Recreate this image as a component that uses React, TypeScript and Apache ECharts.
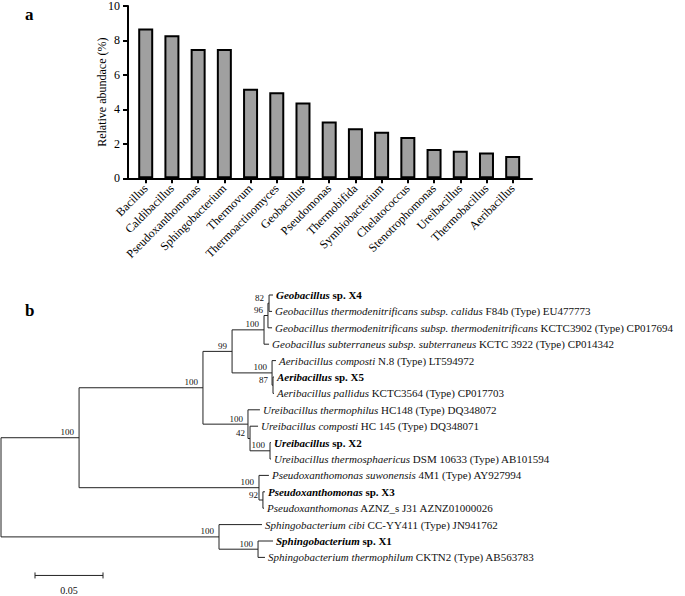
import React, { useEffect, useRef } from "react";
import * as echarts from "echarts";

const FONT = "Liberation Serif";

// ---- panel a: bar chart data ----
const genera = [
  "Bacillus", "Caldibacillus", "Pseudoxanthomonas", "Sphingobacterium", "Thermovum",
  "Thermoactinomyces", "Geobacillus", "Pseudomonas", "Thermobifida", "Symbiobacterium",
  "Chelatococcus", "Stenotrophomonas", "Ureibacillus", "Thermobacillus", "Aeribacillus",
];
const abundance = [8.7, 8.3, 7.5, 7.5, 5.2, 5.0, 4.4, 3.3, 2.9, 2.7, 2.4, 1.7, 1.6, 1.5, 1.3];
const yMin = 0;
const yMax = 10;
const yStep = 2;

// ---- panel b: phylogenetic tree data ----
// [node id, parent id, branch length, bootstrap]
const treeNodes: [string, string, number, string][] = [
  ["root", "", 0, ""],
  ["A", "root", 0.0574, "100"],
  ["B", "A", 0.0911, "100"],
  ["GA", "B", 0.0214, "99"],
  ["Geo", "GA", 0.0235, "100"],
  ["n96", "Geo", 0.0029, "96"],
  ["n82", "n96", 0.0008, "82"],
  ["t0", "n82", 0.0029, ""],
  ["t1", "n82", 0.0022, ""],
  ["t2", "n96", 0.003, ""],
  ["t3", "Geo", 0.0037, ""],
  ["Aer", "GA", 0.0294, "100"],
  ["t4", "Aer", 0.0029, ""],
  ["n87", "Aer", 0.0007, "87"],
  ["t5", "n87", 0.0007, ""],
  ["t6", "n87", 0.0007, ""],
  ["Ure", "B", 0.0331, "100"],
  ["t7", "Ure", 0.0088, ""],
  ["n42", "Ure", 0.0015, "42"],
  ["t8", "n42", 0.0059, ""],
  ["nX2", "n42", 0.0147, "100"],
  ["t9", "nX2", 0.0007, ""],
  ["t10", "nX2", 0.0007, ""],
  ["Psx", "A", 0.1323, "100"],
  ["t11", "Psx", 0.0073, ""],
  ["n92", "Psx", 0.0029, "92"],
  ["t12", "n92", 0.0015, ""],
  ["t13", "n92", 0.0008, ""],
  ["Sph", "root", 0.1603, "100"],
  ["t14", "Sph", 0.0316, ""],
  ["nX1", "Sph", 0.0287, "100"],
  ["t15", "nX1", 0.011, ""],
  ["t16", "nX1", 0.0051, ""],
];
const leafOrder = ["t0", "t1", "t2", "t3", "t4", "t5", "t6", "t7", "t8", "t9", "t10", "t11", "t12", "t13", "t14", "t15", "t16"];
const tipItalic = [
  "Geobacillus",
  "Geobacillus thermodenitrificans subsp. calidus",
  "Geobacillus thermodenitrificans subsp. thermodenitrificans",
  "Geobacillus subterraneus subsp. subterraneus",
  "Aeribacillus composti",
  "Aeribacillus",
  "Aeribacillus pallidus",
  "Ureibacillus thermophilus",
  "Ureibacillus composti",
  "Ureibacillus",
  "Ureibacillus thermosphaericus",
  "Pseudoxanthomonas suwonensis",
  "Pseudoxanthomonas",
  "Pseudoxanthomonas",
  "Sphingobacterium cibi",
  "Sphingobacterium",
  "Sphingobacterium thermophilum",
];
const tipPlain = [
  " sp. X4",
  " F84b (Type) EU477773",
  " KCTC3902 (Type) CP017694",
  " KCTC 3922 (Type) CP014342",
  " N.8 (Type) LT594972",
  " sp. X5",
  " KCTC3564 (Type) CP017703",
  " HC148 (Type) DQ348072",
  " HC 145 (Type) DQ348071",
  " sp. X2",
  " DSM 10633 (Type) AB101594",
  " 4M1 (Type) AY927994",
  " sp. X3",
  " AZNZ_s J31 AZNZ01000026",
  " CC-YY411 (Type) JN941762",
  " sp. X1",
  " CKTN2 (Type) AB563783",
];
const tipBold = [true, false, false, false, false, true, false, false, false, true, false, false, true, false, false, true, false];
const scaleBar = { start: 0.025, length: 0.05, row: 17.1, label: "0.05" };

type TNode = { id: string; x: number; y: number; boot: string; children: TNode[]; ymin: number; ymax: number };

function layoutTree() {
  const map: Record<string, TNode> = {};
  treeNodes.forEach(([id, , , boot]) => {
    map[id] = { id, x: 0, y: 0, boot, children: [], ymin: 0, ymax: 0 };
  });
  treeNodes.forEach(([id, parent, bl]) => {
    if (parent) {
      map[parent].children.push(map[id]);
      map[id].x = map[parent].x + bl;
    }
  });
  const setY = (n: TNode): number => {
    if (!n.children.length) {
      n.y = leafOrder.indexOf(n.id);
      return n.y;
    }
    const ys = n.children.map(setY);
    n.ymin = Math.min(...ys);
    n.ymax = Math.max(...ys);
    n.y = (n.ymin + n.ymax) / 2;
    return n.y;
  };
  setY(map.root);
  const segments: number[][] = [];
  const boots: number[][] = [];
  const bootText: string[] = [];
  const tips: number[][] = [];
  treeNodes.forEach(([id, parent]) => {
    const n = map[id];
    if (parent) segments.push([map[parent].x, n.y, n.x, n.y]);
    if (n.children.length) {
      segments.push([n.x, n.ymin, n.x, n.ymax]);
      if (n.boot) {
        boots.push([n.x, n.y, bootText.length]);
        bootText.push(n.boot);
      }
    } else {
      tips.push([n.x, n.y, leafOrder.indexOf(id)]);
    }
  });
  return { segments, boots, bootText, tips };
}

export default function App() {
  const ref = useRef<HTMLDivElement>(null);
  useEffect(() => {
    if (!ref.current) return;
    const chart = echarts.init(ref.current, undefined, { renderer: "svg" });
    const { segments, boots, bootText, tips } = layoutTree();
    const LINE = "#222";
    const rich = {
      i: { fontFamily: FONT, fontSize: 11, fontStyle: "italic", fontWeight: "normal", fill: "#111" },
      n: { fontFamily: FONT, fontSize: 11, fontStyle: "normal", fontWeight: "normal", fill: "#111" },
      bi: { fontFamily: FONT, fontSize: 11, fontStyle: "italic", fontWeight: "bold", fill: "#000" },
      b: { fontFamily: FONT, fontSize: 11, fontStyle: "normal", fontWeight: "bold", fill: "#000" },
    };
    const option: any = {
      animation: false,
      textStyle: { fontFamily: FONT },
      grid: [
        { left: 128, top: 6, width: 404, height: 172.3 },
        { left: 132.6, top: 6, width: 393.2, height: 172.3 },
        { left: 1, top: 295, width: 544, height: 295.2 },
      ],
      xAxis: [
        {
          gridIndex: 0, type: "value", min: 0, max: 1,
          axisLine: { show: true, lineStyle: { color: "#000", width: 2 } },
          axisTick: { show: false }, axisLabel: { show: false }, splitLine: { show: false },
        },
        {
          gridIndex: 1, type: "category", data: genera,
          axisLine: { show: false },
          axisTick: { show: true, alignWithLabel: true, length: 5, lineStyle: { color: "#000", width: 2 } },
          axisLabel: { rotate: 45, interval: 0, fontFamily: FONT, fontSize: 12, color: "#000", margin: 8 },
        },
        { gridIndex: 2, type: "value", min: 0, max: 0.4, show: false },
      ],
      yAxis: [
        {
          gridIndex: 0, type: "value", min: yMin, max: yMax, interval: yStep,
          axisLine: { show: true, lineStyle: { color: "#000", width: 2 } },
          axisTick: { show: true, length: 5, lineStyle: { color: "#000", width: 2 } },
          axisLabel: { fontFamily: FONT, fontSize: 12, color: "#000", margin: 8 },
          splitLine: { show: false },
          name: "Relative abundace (%)", nameLocation: "middle", nameGap: 20,
          nameMoveOverlap: false,
          nameTextStyle: { fontFamily: FONT, fontSize: 12, color: "#000" },
        },
        { gridIndex: 1, type: "value", min: yMin, max: yMax, show: false },
        { gridIndex: 2, type: "value", min: 0, max: 18, inverse: true, show: false },
      ],
      series: [
        {
          type: "bar", xAxisIndex: 1, yAxisIndex: 1, data: abundance, barWidth: 15,
          itemStyle: { color: "#a0a0a0", borderColor: "#000", borderWidth: 2 },
        },
        {
          type: "custom", coordinateSystem: "cartesian2d", xAxisIndex: 2, yAxisIndex: 2,
          data: segments,
          renderItem: (_p: any, api: any) => {
            const a = api.coord([api.value(0), api.value(1)]);
            const b = api.coord([api.value(2), api.value(3)]);
            return {
              type: "line",
              shape: { x1: a[0], y1: a[1], x2: b[0], y2: b[1] },
              style: { stroke: LINE, lineWidth: 1, fill: null },
            };
          },
        },
        {
          type: "custom", coordinateSystem: "cartesian2d", xAxisIndex: 2, yAxisIndex: 2,
          data: boots,
          renderItem: (_p: any, api: any) => {
            const a = api.coord([api.value(0), api.value(1)]);
            return {
              type: "text",
              x: a[0] - 5, y: a[1] - 1,
              style: {
                text: bootText[api.value(2)], fill: "#111",
                fontFamily: FONT, fontSize: 9, align: "right", verticalAlign: "bottom",
              },
            };
          },
        },
        {
          type: "custom", coordinateSystem: "cartesian2d", xAxisIndex: 2, yAxisIndex: 2,
          data: tips,
          renderItem: (_p: any, api: any) => {
            const a = api.coord([api.value(0), api.value(1)]);
            const k = api.value(2);
            const txt = tipBold[k]
              ? `{bi|${tipItalic[k]}}{b|${tipPlain[k]}}`
              : `{i|${tipItalic[k]}}{n|${tipPlain[k]}}`;
            return {
              type: "text",
              x: a[0] + 3, y: a[1],
              style: {
                text: txt, rich, fill: "#111",
                fontFamily: FONT, fontSize: 11, align: "left", verticalAlign: "middle",
              },
            };
          },
        },
        {
          type: "custom", coordinateSystem: "cartesian2d", xAxisIndex: 2, yAxisIndex: 2,
          data: [[scaleBar.start, scaleBar.row, scaleBar.start + scaleBar.length]],
          renderItem: (_p: any, api: any) => {
            const a = api.coord([api.value(0), api.value(1)]);
            const b = api.coord([api.value(2), api.value(1)]);
            const st = { stroke: LINE, lineWidth: 1 };
            return {
              type: "group",
              children: [
                { type: "line", shape: { x1: a[0], y1: a[1], x2: b[0], y2: b[1] }, style: st },
                { type: "line", shape: { x1: a[0], y1: a[1] - 3, x2: a[0], y2: a[1] + 3 }, style: st },
                { type: "line", shape: { x1: b[0], y1: b[1] - 3, x2: b[0], y2: b[1] + 3 }, style: st },
                {
                  type: "text", x: (a[0] + b[0]) / 2, y: a[1] + 15,
                  style: { text: scaleBar.label, fill: "#111", fontFamily: FONT, fontSize: 10, align: "center", verticalAlign: "middle" },
                },
              ],
            };
          },
        },
      ],
      graphic: [
        { type: "text", left: 25, top: 6, style: { text: "a", fontFamily: FONT, fontSize: 17, fontWeight: "bold", fill: "#000" } },
        { type: "text", left: 25, top: 302, style: { text: "b", fontFamily: FONT, fontSize: 17, fontWeight: "bold", fill: "#000" } },
      ],
    };
    chart.setOption(option);
    return () => chart.dispose();
  }, []);
  return (
    <div
      ref={ref}
      style={{ position: "absolute", left: 0, top: 0, width: 685, height: 596, background: "#fff" }}
    />
  );
}
